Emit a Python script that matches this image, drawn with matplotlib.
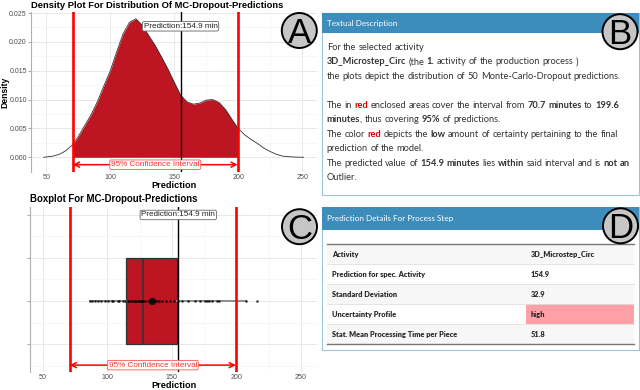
import numpy as np
import matplotlib
matplotlib.use("Agg")
import matplotlib.pyplot as plt
from matplotlib.patches import Rectangle, Ellipse

W, H = 640, 390

# density curve of the MC-dropout predictions
dens_x = [48, 55, 60, 65, 70.7, 75, 80, 85, 90, 95, 100, 105, 110, 115, 120,
          125, 130, 135, 140, 145, 150, 154.9, 160, 165, 170, 175, 180, 185,
          190, 195, 199.6, 205, 210, 215, 220, 225, 230, 235, 240, 245, 251]
dens_y = [0.0, 0.0002, 0.0005, 0.0011, 0.0022, 0.0036, 0.0055, 0.0074, 0.0097,
          0.0124, 0.0150, 0.0183, 0.0214, 0.0234, 0.0240, 0.0229, 0.0211,
          0.0194, 0.0174, 0.0153, 0.0130, 0.0108, 0.0096, 0.0092, 0.0094,
          0.0099, 0.0100, 0.0095, 0.0083, 0.0066, 0.0051, 0.0039, 0.0031,
          0.0024, 0.0016, 0.0010, 0.0005, 0.0002, 0.0001, 0.00003, 0.0]

# the 50 predictions (panel C)
predictions = [86.4, 88.2, 90.3, 92.9, 94.7, 98.1, 100.6, 103.2, 104.5, 107.9,
               109.2, 112.3, 114.0, 115.6, 116.8, 118.0, 119.2, 120.3, 121.5,
               122.4, 123.6, 124.5, 125.4, 126.3, 127.0, 127.8, 129.5, 131.2,
               133.0, 134.8, 136.5, 138.4, 140.2, 142.6, 145.3, 148.6, 151.5,
               155.0, 158.0, 162.6, 168.0, 171.7, 175.6, 177.0, 178.9, 181.0,
               184.6, 186.7, 207.4, 216.1]

pred_value = 154.9
ci_low, ci_high = 70.7, 199.6

x_ticks = [50, 100, 150, 200, 250]
x_minor = [75, 125, 175, 225]
dens_ticks = [0.000, 0.005, 0.010, 0.015, 0.020, 0.025]
dens_minor = [0.0025, 0.0075, 0.0125, 0.0175, 0.0225]
box_ticks = [-0.2, 0.0, 0.2, 0.4]
box_minor = [-0.3, -0.1, 0.1, 0.3]

table_rows = ["Activity", "Prediction for spec. Activity", "Standard Deviation",
              "Uncertainty Profile", "Stat. Mean Processing Time per Piece"]
table_vals = ["3D_Microstep_Circ", "154.9", "32.9", "high", "51.8"]

RED_FILL = "#bd1521"
GG = "Liberation Sans"
WEB = "Lato"

fig = plt.figure(figsize=(6.4, 3.9), dpi=100)


def fx(px):
    return px / W


def fy(py):
    return 1 - py / H


def style_axes(ax, yt, ym):
    for s in ax.spines.values():
        s.set_visible(False)
    ax.spines["left"].set_visible(True)
    ax.spines["left"].set_color("#b0b0b0")
    ax.spines["left"].set_linewidth(0.8)
    ax.set_xticks(x_ticks)
    ax.set_xticks(x_minor, minor=True)
    ax.set_yticks(yt)
    ax.set_yticks(ym, minor=True)
    ax.grid(which="major", color="#e4e4e4", lw=0.6)
    ax.grid(which="minor", color="#f1f1f1", lw=0.4)
    ax.set_axisbelow(True)
    ax.tick_params(axis="x", which="both", length=0, pad=1.5, labelsize=5.1,
                   labelcolor="#4d4d4d")
    ax.tick_params(axis="y", which="major", length=2, width=0.6, color="#999999",
                   pad=1, labelsize=5.0, labelcolor="#4d4d4d")
    ax.tick_params(axis="y", which="minor", length=0)
    for lab in ax.get_xticklabels() + ax.get_yticklabels():
        lab.set_family(GG)


def ci_marks(ax, y_arrow, y_pred):
    ax.axvline(ci_low, color="#ff0000", lw=1.9, zorder=4)
    ax.axvline(ci_high, color="#ff0000", lw=1.9, zorder=4)
    ax.axvline(pred_value, color="black", lw=1.0, zorder=4)
    ax.annotate("", xy=(ci_low, y_arrow), xytext=(ci_high, y_arrow),
                arrowprops=dict(arrowstyle="<->", color="#ff0000", lw=1.1,
                                shrinkA=0, shrinkB=0, mutation_scale=9), zorder=5)
    ax.text((ci_low + ci_high) / 2, y_arrow, "95% Confidence Interval",
            ha="center", va="center", color="#ff3030", fontsize=5.9, family=GG,
            zorder=6, bbox=dict(boxstyle="round,pad=0.15,rounding_size=0.2",
                                fc="white", ec="#ff5050", lw=0.6))
    ax.text(pred_value, y_pred, "Prediction:154.9 min", ha="center", va="center",
            color="#222222", fontsize=5.9, family=GG, zorder=6,
            bbox=dict(boxstyle="round,pad=0.15,rounding_size=0.2",
                      fc="white", ec="#666666", lw=0.6))


# ---- panel A: density
axA = fig.add_axes([fx(31), fy(172), 286 / W, 160 / H])
dx = np.array(dens_x)
dy = np.array(dens_y)
axA.fill_between(dx, dy, where=(dx >= ci_low) & (dx <= ci_high),
                 color=RED_FILL, lw=0, zorder=2)
axA.plot(dx, dy, color="#333333", lw=0.6, zorder=3)
ci_marks(axA, -0.00128, 0.0227)
axA.set_xlim(38, 261.6)
axA.set_ylim(-0.00255, 0.02518)
style_axes(axA, dens_ticks, dens_minor)
axA.set_yticklabels(["%.3f" % v for v in dens_ticks])
fig.text(fx(31), fy(5), "Density Plot For Distribution Of MC-Dropout-Predictions",
         fontsize=6.75, weight="bold", family=GG, va="center", ha="left")
fig.text(fx(4.5), fy(92), "Density", rotation=90, fontsize=6.2, weight="bold",
         family=GG, va="center", ha="center")
fig.text(fx(174), fy(185), "Prediction", fontsize=6.6, weight="bold",
         family=GG, va="center", ha="center")

# ---- panel C: boxplot
axC = fig.add_axes([fx(30), fy(372), 287 / W, 165 / H])
axC.boxplot(predictions, orientation="horizontal", positions=[0], widths=0.4,
            whis=1.5, showfliers=False, showcaps=False, patch_artist=True,
            showmeans=True,
            boxprops=dict(facecolor=RED_FILL, edgecolor="#333333", lw=0.9),
            medianprops=dict(color="#333333", lw=1.1),
            whiskerprops=dict(color="#8c8c8c", lw=1.4),
            meanprops=dict(marker="o", markerfacecolor="#111111",
                           markeredgecolor="#111111", markersize=4.2))
axC.scatter(predictions, np.zeros(len(predictions)), s=3.5, color="black",
            alpha=0.75, lw=0, zorder=3)
ci_marks(axC, -0.298, 0.4)
axC.set_xlim(40, 262.4)
axC.set_ylim(-0.33, 0.437)
style_axes(axC, box_ticks, box_minor)
axC.set_yticklabels([])
fig.text(fx(30), fy(199), "Boxplot For MC-Dropout-Predictions",
         fontsize=6.9, weight="bold", family=GG, va="center", ha="left")
fig.text(fx(174), fy(386), "Prediction", fontsize=6.6, weight="bold",
         family=GG, va="center", ha="center")

# ---- panel B: textual description
fig.add_artist(Rectangle((fx(322), fy(195)), 317 / W, (195 - 12.7) / H,
                         transform=fig.transFigure, fc="white", ec="#9cc3dc",
                         lw=0.8, zorder=1))
fig.add_artist(Rectangle((fx(322), fy(33.3)), 317 / W, 20.6 / H,
                         transform=fig.transFigure, fc="#3c8dbc", lw=0, zorder=2))
fig.text(fx(327), fy(23.3), "Textual Description", color="white", fontsize=5.9,
         family=WEB, va="center", ha="left", zorder=3)

renderer = fig.canvas.get_renderer()
styles = {"n": dict(color="#333333"),
          "b": dict(color="#333333", weight="bold"),
          "r": dict(color="#dd0000", weight="bold")}
BODY = 6.7


def space_width(size):
    a = fig.text(0, 0, "a a", fontsize=size, family=WEB)
    b = fig.text(0, 0, "aa", fontsize=size, family=WEB)
    w = a.get_window_extent(renderer).width - b.get_window_extent(renderer).width
    a.remove()
    b.remove()
    return w


def rich_line(x, y, runs, size):
    # word by word, so bold / red runs keep the normal spacing
    sp = space_width(size)
    for txt, st in runs:
        for k, word in enumerate(txt.split(" ")):
            if k > 0:
                x += sp
            if not word:
                continue
            t = fig.text(fx(x), fy(y), word, fontsize=size, family=WEB,
                         va="baseline", ha="left", zorder=3, **styles[st])
            x += t.get_window_extent(renderer).width


body = [
    (47, [("For the selected activity", "n")]),
    (61.5, [("3D_Microstep_Circ", "b"), (" (the ", "n"), ("1.", "b"),
            (" activity of the production process )", "n")]),
    (76, [("the plots depict the distribution of 50 Monte-Carlo-Dropout predictions.", "n")]),
    (105, [("The in ", "n"), ("red", "r"),
           (" enclosed areas cover the interval from ", "n"),
           ("70.7 minutes", "b"), (" to ", "n"), ("199.6", "b")]),
    (119.5, [("minutes", "b"), (", thus covering ", "n"), ("95%", "b"),
             (" of predictions.", "n")]),
    (134, [("The color ", "n"), ("red", "r"), (" depicts the ", "n"), ("low", "b"),
           (" amount of certainty pertaining to the final", "n")]),
    (148.5, [("prediction of the model.", "n")]),
    (163, [("The predicted value of ", "n"), ("154.9 minutes", "b"),
           (" lies ", "n"), ("within", "b"), (" said interval and is ", "n"),
           ("not an", "b")]),
    (177.5, [("Outlier.", "n")]),
]
for yy, runs in body:
    rich_line(326.7, yy + 3, runs, BODY)

# ---- panel D: prediction details table
fig.add_artist(Rectangle((fx(322), fy(350)), 317 / W, (350 - 207) / H,
                         transform=fig.transFigure, fc="white", ec="#9cc3dc",
                         lw=0.8, zorder=1))
fig.add_artist(Rectangle((fx(322), fy(230)), 317 / W, 23 / H,
                         transform=fig.transFigure, fc="#3c8dbc", lw=0, zorder=2))
fig.text(fx(327), fy(219), "Prediction Details For Process Step", color="white",
         fontsize=5.9, family=WEB, va="center", ha="left", zorder=3)

row_top = 244.3
row_h = 20.0
for i, (name, val) in enumerate(zip(table_rows, table_vals)):
    top = row_top + i * row_h
    if i % 2 == 0:
        fig.add_artist(Rectangle((fx(326.7), fy(top + row_h)), (634 - 326.7) / W,
                                 row_h / H, transform=fig.transFigure,
                                 fc="#f7f7f7", lw=0, zorder=2))
    if val == "high":
        fig.add_artist(Rectangle((fx(526), fy(top + row_h)), (634 - 526) / W,
                                 row_h / H, transform=fig.transFigure,
                                 fc="#ff9fa6", lw=0, zorder=2))
    if i > 0:
        fig.add_artist(plt.Line2D([fx(326.7), fx(634)], [fy(top), fy(top)],
                                  color="#e0e0e0", lw=0.6, zorder=3))
    fig.text(fx(331.7), fy(top + row_h / 2), name, fontsize=5.3, weight="heavy",
             family=WEB, color="#2a2a2a", va="center", ha="left", zorder=4)
    fig.text(fx(531), fy(top + row_h / 2), val, fontsize=5.3, weight="heavy",
             family=WEB, color="#2a2a2a", va="center", ha="left", zorder=4)
for yy in (row_top, row_top + 5 * row_h):
    fig.add_artist(plt.Line2D([fx(326.7), fx(634)], [fy(yy), fy(yy)],
                              color="#777777", lw=1.0, zorder=3))

# ---- letter badges
for cx, cy, letter in [(299.3, 30.5, "A"), (620, 31.7, "B"),
                       (299.5, 226.7, "C"), (620.5, 225.8, "D")]:
    fig.add_artist(Ellipse((fx(cx), fy(cy)), 35 / W, 35 / H,
                           transform=fig.transFigure, fc="#c6c6c6", ec="black",
                           lw=1.4, zorder=10))
    fig.text(fx(cx), fy(cy + 12.3), letter, fontsize=25, family=GG,
             ha="center", va="baseline", zorder=11)

fig.savefig("out.png", dpi=100)
